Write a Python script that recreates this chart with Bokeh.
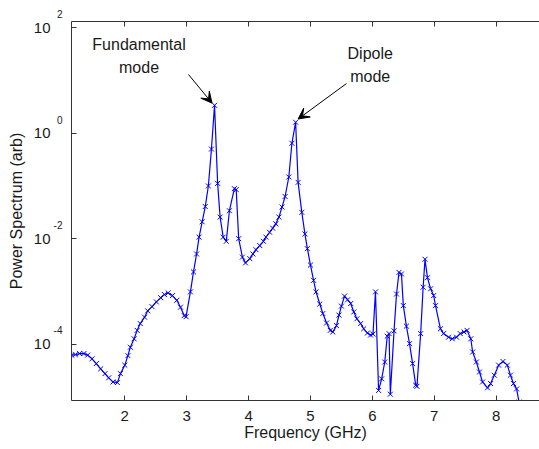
from bokeh.plotting import figure
from bokeh.models import (Range1d, LinearAxis, LogAxis, FixedTicker, Label, Arrow, VeeHead,
                          ColumnDataSource, CustomJSTickFormatter)
from bokeh.embed import file_html
from bokeh.resources import INLINE

# ---------------- data ----------------
freq = [1.14, 1.20, 1.27, 1.34, 1.40, 1.47, 1.54, 1.61, 1.68, 1.74,
        1.81, 1.88, 1.93, 2.00, 2.05, 2.09, 2.15, 2.20, 2.25, 2.32,
        2.37, 2.44, 2.51, 2.58, 2.64, 2.70, 2.77, 2.84, 2.90, 2.96,
        2.99, 3.06, 3.11, 3.16, 3.20, 3.25, 3.30, 3.35, 3.40, 3.45,
        3.50, 3.54, 3.59, 3.64, 3.69, 3.77, 3.80, 3.84, 3.90, 3.95,
        4.02, 4.07, 4.12, 4.18, 4.24, 4.28, 4.34, 4.39, 4.44, 4.49,
        4.54, 4.59, 4.65, 4.70, 4.76, 4.80, 4.86, 4.91, 4.95, 5.00,
        5.05, 5.09, 5.15, 5.20, 5.26, 5.32, 5.36, 5.42, 5.46, 5.50,
        5.55, 5.60, 5.65, 5.70, 5.75, 5.81, 5.86, 5.92, 5.97, 6.01,
        6.05, 6.10, 6.15, 6.20, 6.24, 6.27, 6.29, 6.35, 6.39, 6.43,
        6.47, 6.50, 6.55, 6.60, 6.65, 6.70, 6.72, 6.78, 6.82, 6.85,
        6.89, 6.94, 6.99, 7.02, 7.10, 7.15, 7.23, 7.29, 7.36, 7.42,
        7.48, 7.53, 7.59, 7.62, 7.68, 7.73, 7.78, 7.86, 7.91, 7.97,
        8.04, 8.11, 8.18, 8.23, 8.28, 8.33, 8.37]

power = [6.17e-5, 6.31e-5, 6.61e-5, 6.61e-5, 6.17e-5, 5.25e-5, 4.27e-5, 3.39e-5, 2.75e-5, 2.29e-5,
         1.91e-5, 1.86e-5, 2.75e-5, 3.98e-5, 6.03e-5, 8.71e-5, 1.26e-4, 1.82e-4, 2.45e-4, 3.24e-4,
         4.27e-4, 5.13e-4, 6.31e-4, 7.59e-4, 8.71e-4, 9.33e-4, 8.32e-4, 6.76e-4, 5.01e-4, 3.47e-4,
         3.31e-4, 9.77e-4, 2.34e-3, 5.13e-3, 1.07e-2, 2.09e-2, 4.07e-2, 1.00e-1, 5.01e-1, 3.39,
         1.12e-1, 2.57e-2, 1.07e-2, 8.91e-3, 3.39e-2, 8.91e-2, 8.51e-2, 1.00e-2, 4.47e-3, 3.47e-3,
         4.17e-3, 5.13e-3, 6.17e-3, 7.41e-3, 8.91e-3, 1.07e-2, 1.32e-2, 1.58e-2, 1.91e-2, 2.57e-2,
         3.98e-2, 6.31e-2, 1.48e-1, 6.46e-1, 1.62, 1.17e-1, 3.16e-2, 1.23e-2, 6.46e-3, 3.16e-3,
         1.62e-3, 9.77e-4, 5.75e-4, 3.80e-4, 2.51e-4, 1.82e-4, 1.70e-4, 2.24e-4, 3.55e-4, 5.25e-4,
         8.13e-4, 6.92e-4, 5.89e-4, 4.07e-4, 3.02e-4, 2.45e-4, 1.95e-4, 1.62e-4, 1.48e-4, 1.55e-4,
         9.77e-4, 1.32e-5, 2.19e-5, 4.57e-5, 1.41e-4, 1.58e-4, 1.12e-5, 1.78e-4, 8.91e-4, 2.29e-3,
         2.14e-3, 5.37e-4, 2.19e-4, 1.02e-4, 4.27e-5, 1.66e-5, 1.58e-5, 1.58e-4, 1.20e-3, 4.07e-3,
         1.82e-3, 1.12e-3, 8.32e-4, 5.37e-4, 1.95e-4, 1.58e-4, 1.35e-4, 1.26e-4, 1.35e-4, 1.58e-4,
         1.70e-4, 1.82e-4, 1.26e-4, 7.08e-5, 4.57e-5, 2.95e-5, 1.91e-5, 1.48e-5, 1.78e-5, 2.57e-5,
         3.98e-5, 4.68e-5, 3.98e-5, 2.57e-5, 1.78e-5, 1.41e-5, 7.94e-6]

x_ticks = [2, 3, 4, 5, 6, 7, 8]
y_ticks = [1e-4, 1e-2, 1e0, 1e2]
y_tick_base = "10"
y_tick_exponents = ["-4", "-2", "0", "2"]

x_label = "Frequency (GHz)"
y_label = "Power Spectrum (arb)"

fund_text = ["Fundamental", "mode"]
dipole_text = ["Dipole", "mode"]

# ---------------- figure ----------------
FONT = "Liberation Sans"
TXT = "#1a1a1a"
AX = "#333333"

p = figure(x_range=Range1d(1.139, 8.70), y_range=Range1d(8.5e-6, 132),
           y_axis_type="log", y_axis_location=None,
           frame_width=468, frame_height=379,
           min_border_left=71, min_border_right=0, min_border_top=21, min_border_bottom=49,
           output_backend="svg", toolbar_location=None)
p.outline_line_color = None
p.grid.visible = False
p.background_fill_color = "white"
p.border_fill_color = "white"

src = ColumnDataSource(dict(freq=freq, power=power))
p.line("freq", "power", source=src, line_color="#0000ff", line_width=1.2)
p.scatter("freq", "power", source=src, marker="x", size=7, line_color="#0000ff", line_width=1)

# x axis
xa = p.xaxis[0]
xa.ticker = FixedTicker(ticks=x_ticks, minor_ticks=[])
xa.major_tick_in = 5
xa.major_tick_out = 0
xa.major_label_standoff = 10
xa.axis_label = x_label
xa.axis_label_standoff = 0
xa.axis_line_color = AX
xa.major_tick_line_color = AX
xa.major_label_text_font = FONT
xa.major_label_text_font_size = "15px"
xa.major_label_text_color = TXT
xa.axis_label_text_font = FONT
xa.axis_label_text_font_size = "16px"
xa.axis_label_text_font_style = "normal"
xa.axis_label_text_color = TXT

# inner left axis: line, inward ticks and the raised exponents
exp_fmt = CustomJSTickFormatter(args=dict(tv=y_ticks, labels=y_tick_exponents), code="""
for (let i = 0; i < tv.length; i++) {
  if (Math.abs(Math.log10(tick / tv[i])) < 0.01) return labels[i] + "\\n \\n ";
}
return "";
""")
ya = LogAxis(ticker=FixedTicker(ticks=y_ticks, minor_ticks=[]), formatter=exp_fmt,
             major_tick_in=5, major_tick_out=0, major_label_standoff=9,
             axis_line_color=AX, major_tick_line_color=AX, minor_tick_line_color=None,
             major_label_text_font=FONT, major_label_text_font_size="10px",
             major_label_text_color=TXT)
p.add_layout(ya, "left")

# outer left axis: the "10" bases and the axis title
base_fmt = CustomJSTickFormatter(args=dict(base=y_tick_base), code="return base;")
yb = LogAxis(ticker=FixedTicker(ticks=y_ticks, minor_ticks=[]), formatter=base_fmt,
             major_tick_in=0, major_tick_out=0, major_label_standoff=0,
             axis_line_color=None, major_tick_line_color=None, minor_tick_line_color=None,
             major_label_text_font=FONT, major_label_text_font_size="15px",
             major_label_text_color=TXT,
             axis_label=y_label, axis_label_standoff=6,
             axis_label_text_font=FONT, axis_label_text_font_size="16px",
             axis_label_text_font_style="normal", axis_label_text_color=TXT)
p.add_layout(yb, "left")

# top axis (box edge with ticks, no labels)
top = LinearAxis(ticker=FixedTicker(ticks=x_ticks, minor_ticks=[]),
                 formatter=CustomJSTickFormatter(code="return '';"),
                 major_tick_in=5, major_tick_out=0, major_label_standoff=0,
                 axis_line_color=AX, major_tick_line_color=AX)
p.add_layout(top, "above")

# annotations
i_f = power.index(max(power))
dip = [i for i in range(len(freq)) if freq[i] > 4.5]
i_d = max(dip, key=lambda i: power[i])

def note(xc, lines, y1, y2):
    p.add_layout(Label(x=xc, y=y1, text=lines[0], text_align="center", text_baseline="alphabetic",
                       text_font=FONT, text_font_size="16px", text_color=TXT))
    p.add_layout(Label(x=xc, y=y2, text=lines[1], text_align="center", text_baseline="alphabetic",
                       text_font=FONT, text_font_size="16px", text_color=TXT))

note(2.23, fund_text, 48.7, 17.6)
note(5.965, dipole_text, 32.4, 11.9)

p.add_layout(Arrow(x_start=3.03, y_start=13.0, x_end=freq[i_f] - 0.04, y_end=power[i_f] * 1.1,
                   line_color="black", line_width=1,
                   end=VeeHead(size=11, fill_color="black", line_color="black")))
p.add_layout(Arrow(x_start=5.58, y_start=8.75, x_end=freq[i_d] + 0.04, y_end=power[i_d] * 1.15,
                   line_color="black", line_width=1,
                   end=VeeHead(size=11, fill_color="black", line_color="black")))

open("out.html", "w").write(file_html(p, INLINE))
